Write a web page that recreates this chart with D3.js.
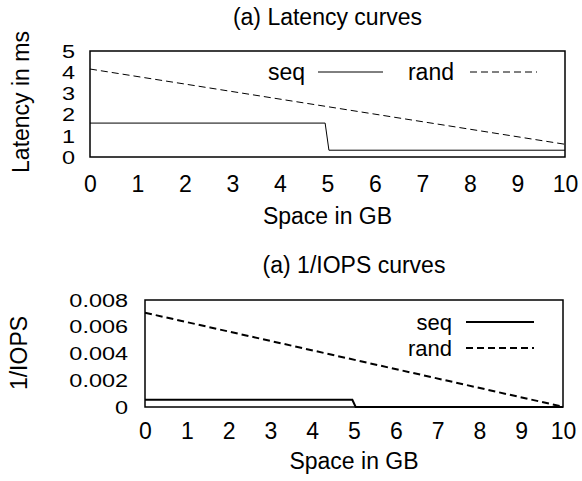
<!DOCTYPE html>
<html>
<head>
<meta charset="utf-8">
<script src="https://cdn.jsdelivr.net/npm/d3@7"></script>
<style>
  body { margin: 0; background: #fff; }
  svg text { font-family: "Liberation Sans", Arial, Helvetica, sans-serif; fill: #000; }
</style>
</head>
<body>
<div id="chart"></div>
<script>
// data
var spaceTicks = [0, 1, 2, 3, 4, 5, 6, 7, 8, 9, 10];

var latencyTicks = [0, 1, 2, 3, 4, 5];
var latencySeq = [
    { x: 0, y: 1.6 }, { x: 4.95, y: 1.6 }, { x: 5.03, y: 0.32 }, { x: 10, y: 0.32 }
];
var latencyRand = [
    { x: 0, y: 4.15 }, { x: 10, y: 0.6 }
];

var iopsTicks = [0, 0.002, 0.004, 0.006, 0.008];
var iopsSeq = [
    { x: 0, y: 0.00054 }, { x: 4.96, y: 0.00054 }, { x: 5.04, y: 0 }, { x: 10, y: 0 }
];
var iopsRand = [
    { x: 0, y: 0.00705 }, { x: 10, y: 0.00002 }
];

var FS = "23px";

var svg = d3.select("#chart").append("svg")
    .attr("width", 582)
    .attr("height", 481);

function drawPanel(opt) {
    var x = d3.scaleLinear().domain([0, 10]).range([opt.left, opt.right]);
    var y = d3.scaleLinear().domain(opt.yDomain).range([opt.bottom, opt.top]);
    var g = svg.append("g");

    // title
    g.append("text")
        .attr("x", (opt.left + opt.right) / 2)
        .attr("y", opt.titleY)
        .attr("text-anchor", "middle")
        .attr("dominant-baseline", "central")
        .style("font-size", FS)
        .text(opt.title);

    // x axis, labels only
    var xAxis = d3.axisBottom(x).tickValues(spaceTicks).tickSize(0).tickPadding(0).tickFormat(d3.format("d"));
    var xg = g.append("g")
        .attr("transform", "translate(0," + opt.xTickY + ")")
        .call(xAxis);
    xg.select(".domain").remove();
    xg.selectAll("text")
        .attr("y", 0).attr("dy", null)
        .attr("dominant-baseline", "central")
        .style("font-size", FS)
        .style("font-family", "Liberation Sans, Arial, sans-serif");

    // y axis
    var yAxis = d3.axisLeft(y).tickValues(opt.yTicks).tickSize(0).tickPadding(0).tickFormat(opt.yFormat);
    var yg = g.append("g")
        .attr("transform", "translate(" + opt.yTickX + ",0)")
        .call(yAxis);
    yg.select(".domain").remove();
    yg.selectAll("text")
        .attr("x", 0).attr("dy", null)
        .attr("dominant-baseline", "central")
        .attr("transform", "scale(1.02,0.82)")
        .style("font-size", FS)
        .style("font-family", "Liberation Sans, Arial, sans-serif");

    // axis titles
    g.append("text")
        .attr("x", (opt.left + opt.right) / 2)
        .attr("y", opt.xLabelY)
        .attr("text-anchor", "middle")
        .attr("dominant-baseline", "central")
        .style("font-size", FS)
        .text("Space in GB");

    g.append("text")
        .attr("transform", "translate(" + opt.yLabelX + "," + opt.yLabelY + ") rotate(-90)")
        .attr("text-anchor", "middle")
        .attr("dominant-baseline", "central")
        .style("font-size", FS)
        .text(opt.yLabel);

    var line = d3.line().x(function(d) { return x(d.x); }).y(function(d) { return y(d.y); });

    g.append("path").datum(opt.seq)
        .attr("d", line)
        .attr("fill", "none")
        .attr("stroke", "#000")
        .attr("stroke-width", opt.lineW);

    g.append("path").datum(opt.rand)
        .attr("d", line)
        .attr("fill", "none")
        .attr("stroke", "#000")
        .attr("stroke-width", opt.lineW)
        .attr("stroke-dasharray", "7,4");

    // frame
    g.append("rect")
        .attr("x", opt.left).attr("y", opt.top)
        .attr("width", opt.right - opt.left)
        .attr("height", opt.bottom - opt.top)
        .attr("fill", "none")
        .attr("stroke", "#000")
        .attr("stroke-width", 1.5);

    // legend
    opt.legend.forEach(function(l) {
        g.append("text")
            .attr("x", l.textX).attr("y", l.y)
            .attr("text-anchor", "end")
            .attr("dominant-baseline", "central")
            .style("font-size", opt.legendFS)
            .text(l.name);
        g.append("line")
            .attr("x1", l.x1).attr("x2", l.x2)
            .attr("y1", l.y).attr("y2", l.y)
            .attr("stroke", "#000")
            .attr("stroke-width", opt.lineW)
            .attr("stroke-dasharray", l.dash ? "7,4" : null);
    });
}

drawPanel({
    title: "(a) Latency curves", titleY: 17,
    left: 90, right: 565, top: 51, bottom: 157,
    yDomain: [0, 5], yTicks: latencyTicks, yFormat: d3.format("d"),
    yTickX: 75, xTickY: 184, xLabelY: 216,
    yLabel: "Latency in ms", yLabelX: 21, yLabelY: 102,
    seq: latencySeq, rand: latencyRand, lineW: 1, legendFS: FS,
    legend: [
        { name: "seq", textX: 305, x1: 318, x2: 383, y: 72, dash: false },
        { name: "rand", textX: 454, x1: 470, x2: 537, y: 72, dash: true }
    ]
});

drawPanel({
    title: "(a) 1/IOPS curves", titleY: 265,
    left: 145, right: 563, top: 300, bottom: 407,
    yDomain: [0, 0.008], yTicks: iopsTicks,
    yFormat: function(d) { return d === 0 ? "0" : d3.format(".3f")(d); },
    yTickX: 128, xTickY: 431, xLabelY: 461,
    yLabel: "1/IOPS", yLabelX: 19, yLabelY: 353,
    seq: iopsSeq, rand: iopsRand, lineW: 2, legendFS: "22px",
    legend: [
        { name: "seq", textX: 452, x1: 466, x2: 534, y: 322, dash: false },
        { name: "rand", textX: 452, x1: 466, x2: 534, y: 348, dash: true }
    ]
});
</script>
</body>
</html>
